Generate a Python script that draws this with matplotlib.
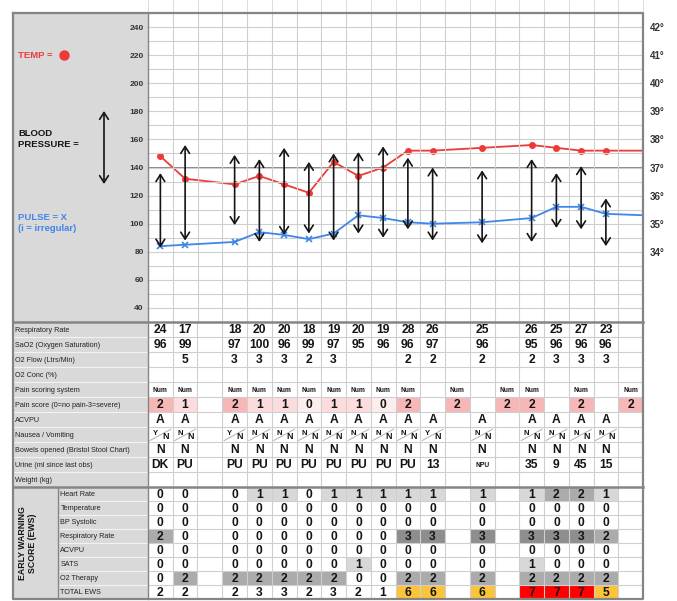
import matplotlib
matplotlib.use('Agg')
import matplotlib.pyplot as plt
from matplotlib.patches import Rectangle

plt.rcParams['font.family'] = ['Liberation Sans', 'DejaVu Sans']

W, H = 677, 601
N_COLS = 20

# --- chart values (column index -> reading) ---
obs_cols = [0, 1, 3, 4, 5, 6, 7, 8, 9, 10, 11, 13, 15, 16, 17, 18]
temp_vals = [37.4, 36.6, 36.4, 36.7, 36.4, 36.1, 37.2, 36.7, 37.0, 37.6, 37.6, 37.7, 37.8, 37.7, 37.6, 37.6]
temp_edge = 37.6
pulse_vals = [84, 85, 87, 94, 92, 89, 93, 106, 104, 101, 100, 101, 104, 112, 112, 107]
pulse_edge = 106
bp_sys = [136, 156, 149, 146, 154, 144, 150, 151, 155, 147, 140, 138, 146, 136, 141, 118]
bp_dia = [83, 88, 99, 87, 92, 93, 88, 93, 90, 96, 88, 86, 87, 97, 96, 84]

bp_ticks = [40, 60, 80, 100, 120, 140, 160, 180, 200, 220, 240]
temp_ticks = [34, 35, 36, 37, 38, 39, 40, 41, 42]

# --- observation table ---
row_labels = ['Respiratory Rate', 'SaO2 (Oxygen Saturation)', 'O2 Flow (Ltrs/Min)', 'O2 Conc (%)',
              'Pain scoring system', 'Pain score (0=no pain-3=severe)', 'ACVPU', 'Nausea / Vomiting',
              'Bowels opened (Bristol Stool Chart)', 'Urine (ml since last obs)', 'Weight (kg)']
resp_rate = ['24', '17', '', '18', '20', '20', '18', '19', '20', '19', '28', '26', '', '25', '', '26', '25', '27', '23', '']
sao2 = ['96', '99', '', '97', '100', '96', '99', '97', '95', '96', '96', '97', '', '96', '', '95', '96', '96', '96', '']
o2_flow = ['', '5', '', '3', '3', '3', '2', '3', '', '', '2', '2', '', '2', '', '2', '3', '3', '3', '']
o2_conc = [''] * 20
pain_system = ['Num', 'Num', '', 'Num', 'Num', 'Num', 'Num', 'Num', 'Num', 'Num', 'Num', '', 'Num', '', 'Num', 'Num', '', 'Num', '', 'Num']
pain_score = ['2', '1', '', '2', '1', '1', '0', '1', '1', '0', '2', '', '2', '', '2', '2', '', '2', '', '2']
acvpu = ['A', 'A', '', 'A', 'A', 'A', 'A', 'A', 'A', 'A', 'A', 'A', '', 'A', '', 'A', 'A', 'A', 'A', '']
nausea = ['YN', 'NN', '', 'YN', 'NN', 'NN', 'NN', 'NN', 'NN', 'NN', 'NN', 'YN', '', 'NN', '', 'NN', 'NN', 'NN', 'NN', '']
bowels = ['N', 'N', '', 'N', 'N', 'N', 'N', 'N', 'N', 'N', 'N', 'N', '', 'N', '', 'N', 'N', 'N', 'N', '']
urine = ['DK', 'PU', '', 'PU', 'PU', 'PU', 'PU', 'PU', 'PU', 'PU', 'PU', '13', '', 'NPU', '', '35', '9', '45', '15', '']
weight = [''] * 20

# --- early warning scores ---
ews_labels = ['Heart Rate', 'Temperature', 'BP Systolic', 'Respiratory Rate', 'ACVPU', 'SATS', 'O2 Therapy', 'TOTAL EWS']
ews_hr = [0, 0, None, 0, 1, 1, 0, 1, 1, 1, 1, 1, None, 1, None, 1, 2, 2, 1, None]
ews_temp = [0, 0, None, 0, 0, 0, 0, 0, 0, 0, 0, 0, None, 0, None, 0, 0, 0, 0, None]
ews_bp = [0, 0, None, 0, 0, 0, 0, 0, 0, 0, 0, 0, None, 0, None, 0, 0, 0, 0, None]
ews_rr = [2, 0, None, 0, 0, 0, 0, 0, 0, 0, 3, 3, None, 3, None, 3, 3, 3, 2, None]
ews_acvpu = [0, 0, None, 0, 0, 0, 0, 0, 0, 0, 0, 0, None, 0, None, 0, 0, 0, 0, None]
ews_sats = [0, 0, None, 0, 0, 0, 0, 0, 1, 0, 0, 0, None, 0, None, 1, 0, 0, 0, None]
ews_o2 = [0, 2, None, 2, 2, 2, 2, 2, 0, 0, 2, 2, None, 2, None, 2, 2, 2, 2, None]
ews_total = [2, 2, None, 2, 3, 3, 2, 3, 2, 1, 6, 6, None, 6, None, 7, 7, 7, 5, None]

RED = '#ee3a36'
BLUE = '#3f86e8'
GREY = '#d9d9d9'
GRID = '#cfcfcf'
BORDER = '#858585'
INK = '#141414'
LBL = 135 / 24.75  # width of label panel in column units


def box(x0, y0, x1, y1):
    return [x0 / W, 1 - y1 / H, (x1 - x0) / W, (y1 - y0) / H]


def clean(a):
    a.set_xticks([])
    a.set_yticks([])
    for s in a.spines.values():
        s.set_visible(False)


fig = plt.figure(figsize=(W / 100, H / 100), dpi=100)

# left legend panel
axl = fig.add_axes(box(13, 13, 148, 322))
axl.set_facecolor(GREY)
axl.set_xlim(13, 148)
axl.set_ylim(322, 13)
clean(axl)
axl.text(18, 55, 'TEMP =', color=RED, fontsize=6.8, fontweight='bold', va='center')
axl.plot(64, 55, 'o', color=RED, ms=6.5)
axl.text(18, 139, 'BLOOD\nPRESSURE =', color=INK, fontsize=6.8, fontweight='bold', va='center', linespacing=1.35)
axl.annotate('', xy=(104, 111), xytext=(104, 184),
             arrowprops=dict(arrowstyle='<->,head_length=0.7,head_width=0.45', lw=1.2, color=INK,
                             mutation_scale=7, shrinkA=0, shrinkB=0))
axl.text(18, 223, 'PULSE = X\n(i = irregular)', color=BLUE, fontsize=6.8, fontweight='bold', va='center',
         linespacing=1.35)

# chart
ax = fig.add_axes(box(148, 13, 643, 322))
axt = ax.twinx()
ax.set_zorder(axt.get_zorder() + 1)
ax.patch.set_visible(False)

ax.set_xlim(-0.5, N_COLS - 0.5)
ax.set_ylim(30, 250)
ax.set_yticks(bp_ticks)
ax.set_yticks(range(30, 251, 10), minor=True)
ax.set_xticks([i + 0.5 for i in range(N_COLS - 1)])
ax.grid(which='both', color=GRID, lw=0.8, zorder=0)
ax.axhline(140, color='#808080', lw=1.3, zorder=1)
ax.tick_params(axis='y', which='both', length=0, pad=3, labelsize=6, labelcolor='#333333')
ax.tick_params(axis='x', length=0, labelbottom=False)
for t in ax.get_yticklabels():
    t.set_fontweight('bold')
for s in ax.spines.values():
    s.set_visible(False)

axt.set_ylim(37 + (30 - 140) / 20, 37 + (250 - 140) / 20)
axt.set_yticks(temp_ticks)
axt.set_yticklabels([f'{t}°' for t in temp_ticks])
axt.tick_params(axis='y', length=0, pad=5, labelsize=7, labelcolor='#333333')
for t in axt.get_yticklabels():
    t.set_fontweight('bold')
for s in axt.spines.values():
    s.set_visible(False)

axt.plot(obs_cols + [N_COLS - 0.5], temp_vals + [temp_edge], color=RED, lw=1.3, zorder=3)
axt.plot(obs_cols, temp_vals, 'o', color=RED, ms=4, zorder=4)
ax.plot(obs_cols + [N_COLS - 0.5], pulse_vals + [pulse_edge], color=BLUE, lw=1.3, zorder=3)
ax.plot(obs_cols, pulse_vals, 'x', color=BLUE, ms=5, mew=1.2, zorder=4)
for c, s, d in zip(obs_cols, bp_sys, bp_dia):
    ax.annotate('', xy=(c, s), xytext=(c, d),
                arrowprops=dict(arrowstyle='<->,head_length=0.7,head_width=0.45', lw=1.2, color=INK,
                                mutation_scale=7, shrinkA=0, shrinkB=0), zorder=5)

# faint header column lines above the chart
for i in range(N_COLS + 1):
    ax.plot([i - 0.5, i - 0.5], [1, 1 + 13 / 309], transform=ax.get_xaxis_transform(),
            clip_on=False, color='#dcdcdc', lw=0.7)

# observation table
axo = fig.add_axes(box(13, 322, 643, 487))
axo.set_xlim(-0.5 - LBL, N_COLS - 0.5)
axo.set_ylim(len(row_labels), 0)
clean(axo)
rows = [resp_rate, sao2, o2_flow, o2_conc, pain_system, pain_score, acvpu, nausea, bowels, urine, weight]
pain_bg = {'2': '#f7b7b7', '1': '#fcdcdc', '0': '#fdeeee'}
for r, (lab, vals) in enumerate(zip(row_labels, rows)):
    axo.add_patch(Rectangle((-0.5 - LBL, r), LBL, 1, facecolor=GREY, edgecolor='#f2f2f2', lw=0.8))
    axo.text(-0.5 - LBL + 0.08, r + 0.55, lab, fontsize=5.2, color='#222222', va='center')
    for c, v in enumerate(vals):
        if v == '':
            continue
        if vals is pain_score:
            axo.add_patch(Rectangle((c - 0.5, r), 1, 1, facecolor=pain_bg[v], edgecolor='none', zorder=0))
        if vals is nausea:
            axo.plot([c - 0.42, c + 0.42], [r + 0.9, r + 0.15], color='#b0b0b0', lw=0.7)
            axo.text(c - 0.2, r + 0.42, v[0], fontsize=5.5, fontweight='bold', color=INK, ha='center', va='center')
            axo.text(c + 0.22, r + 0.62, v[1], fontsize=6.5, fontweight='bold', color=INK, ha='center', va='center')
            continue
        size = 8.7
        if vals is pain_system or v == 'NPU':
            size = 4.8
        axo.text(c, r + 0.55, v, fontsize=size, fontweight='bold', color=INK, ha='center', va='center')
for i in range(N_COLS):
    axo.axvline(i + 0.5, color=GRID, lw=0.8, zorder=1)
for r in range(1, len(row_labels)):
    axo.plot([-0.5, N_COLS - 0.5], [r, r], color=GRID, lw=0.8, zorder=1)

# early warning score table
axe = fig.add_axes(box(13, 487, 643, 599))
axe.set_xlim(-0.5 - LBL, N_COLS - 0.5)
axe.set_ylim(len(ews_labels), 0)
clean(axe)
ews_rows = [ews_hr, ews_temp, ews_bp, ews_rr, ews_acvpu, ews_sats, ews_o2, ews_total]
SUB = 45 / 24.75
score_bg = {1: '#d8d8d8', 2: '#ababab', 3: '#8e8e8e'}
total_bg = {5: '#fbc43b', 6: '#fbc43b', 7: '#ff0000'}
axe.add_patch(Rectangle((-0.5 - LBL, 0), SUB, len(ews_labels), facecolor=GREY, edgecolor='none'))
axe.text(-0.5 - LBL + 0.6, len(ews_labels) / 2, 'EARLY WARNING\nSCORE (EWS)', rotation=90, fontsize=6.3,
         fontweight='bold', color=INK, ha='center', va='center', linespacing=1.1)
axe.plot([-0.5 - LBL + SUB] * 2, [0, len(ews_labels)], color=BORDER, lw=1.0)
for r, (lab, vals) in enumerate(zip(ews_labels, ews_rows)):
    axe.add_patch(Rectangle((-0.5 - LBL + SUB, r), LBL - SUB, 1, facecolor=GREY, edgecolor='#f2f2f2', lw=0.8))
    axe.text(-0.5 - LBL + SUB + 0.1, r + 0.55, lab, fontsize=5.2, color='#222222', va='center')
    for c, v in enumerate(vals):
        if v is None:
            continue
        bg = total_bg.get(v) if vals is ews_total else score_bg.get(v)
        if bg:
            axe.add_patch(Rectangle((c - 0.5, r), 1, 1, facecolor=bg, edgecolor='none', zorder=0))
        axe.text(c, r + 0.57, str(v), fontsize=8.7, fontweight='bold', color=INK, ha='center', va='center')
for i in range(N_COLS):
    axe.axvline(i + 0.5, color=GRID, lw=0.8, zorder=1)
for r in range(1, len(ews_labels)):
    axe.plot([-0.5, N_COLS - 0.5], [r, r], color=GRID, lw=0.8, zorder=1)

# outer frame and section separators
fr = fig.add_axes([0, 0, 1, 1])
fr.set_xlim(0, W)
fr.set_ylim(H, 0)
fr.axis('off')
fr.set_zorder(10)
fr.plot([13, 643, 643, 13, 13], [13, 13, 599, 599, 13], color=BORDER, lw=1.6)
fr.plot([148, 148], [13, 599], color=BORDER, lw=1.0)
fr.plot([13, 643], [322, 322], color=BORDER, lw=1.8)
fr.plot([13, 643], [487, 487], color=BORDER, lw=1.8)

fig.savefig('out.png', dpi=100, facecolor='white')
